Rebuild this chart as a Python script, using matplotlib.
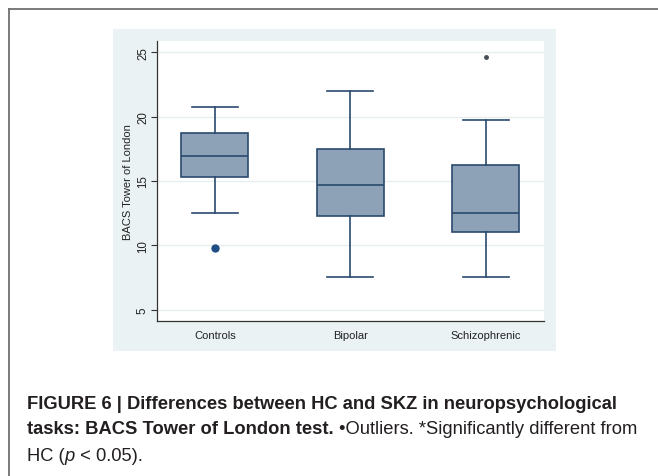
import matplotlib
matplotlib.use('Agg')
import matplotlib.pyplot as plt
from matplotlib import font_manager as fm
from matplotlib.lines import Line2D
from matplotlib.patches import Rectangle

# ---------------- data ----------------
categories = ["Controls", "Bipolar", "Schizophrenic"]
whisker_low = [12.5, 7.5, 7.5]
q1 = [15.33, 12.3, 11.05]
median = [16.93, 14.68, 12.53]
q3 = [18.73, 17.5, 16.27]
whisker_high = [20.78, 22.0, 19.77]
outlier_values = [[9.77], [], [24.66]]
yticks = [5, 10, 15, 20, 25]
ylabel = "BACS Tower of London"

cap_line1 = "FIGURE 6 | Differences between HC and SKZ in neuropsychological"
cap_line2_bold = "tasks: BACS Tower of London test."
cap_line2_reg = "\u2022Outliers. *Significantly different from"
cap_line3 = ["HC (", "p", " < 0.05)."]

# ---------------- figure ----------------
W, H = 658, 477
fig = plt.figure(figsize=(W / 100, H / 100), dpi=100)
fig.patch.set_facecolor('white')

def fx(px):
    return px / W

def fy(py):
    return 1 - py / H

available = {f.name for f in fm.fontManager.ttflist}
base_font = 'Liberation Sans' if 'Liberation Sans' in available else 'DejaVu Sans'
cap_font = 'Liberation Sans Narrow' if 'Liberation Sans Narrow' in available else base_font

# outer frame (left and top lines)
fig.add_artist(Line2D([fx(8.5), fx(8.5)], [fy(10), fy(H + 5)], transform=fig.transFigure,
                      color='#707070', lw=1.3))
fig.add_artist(Line2D([fx(8.5), fx(W + 5)], [fy(10), fy(10)], transform=fig.transFigure,
                      color='#707070', lw=1.3))

# graph region background
gx0, gx1, gy0, gy1 = 113, 556, 30, 351.7
fig.add_artist(Rectangle((fx(gx0), fy(gy1)), fx(gx1 - gx0), (gy1 - gy0) / H,
                         transform=fig.transFigure, facecolor='#eaf2f3', edgecolor='none', zorder=0))

# axes (plot region)
ax_x0, ax_x1, ax_y0, ax_y1 = 157.3, 544.3, 41.7, 322.3
ax = fig.add_axes([fx(ax_x0), fy(ax_y1), fx(ax_x1 - ax_x0), (ax_y1 - ax_y0) / H])
ax.set_facecolor('white')

edge = '#2a4a6e'
fill = '#8da2b6'
stats = []
for i in range(len(categories)):
    stats.append(dict(med=median[i], q1=q1[i], q3=q3[i], whislo=whisker_low[i],
                      whishi=whisker_high[i], fliers=[], label=categories[i]))
positions = list(range(1, len(categories) + 1))
ax.bxp(stats, positions=positions, widths=0.495, capwidths=0.338, patch_artist=True,
       showfliers=False,
       boxprops=dict(facecolor=fill, edgecolor=edge, linewidth=1.2),
       medianprops=dict(color=edge, linewidth=1.2),
       whiskerprops=dict(color=edge, linewidth=1.2),
       capprops=dict(color=edge, linewidth=1.2), zorder=3)

marker_styles = [dict(marker='o', ms=5, color='#1f4e85'), None,
                 dict(marker='o', ms=2.5, color='#4a4f55')]
for i, vals in enumerate(outlier_values):
    if vals:
        ax.plot([positions[i]] * len(vals), vals, linestyle='none', zorder=4, **marker_styles[i])

ax.set_xlim(0.574, 3.433)
ax.set_ylim(4.09, 25.9)
ax.set_yticks(yticks)
ax.set_yticklabels([str(t) for t in yticks], rotation=90, va='center',
                   fontsize=8.3, family=base_font, color='#222222')
ax.set_xticks(positions)
ax.set_xticklabels(categories, fontsize=8, family=base_font, color='#222222')
ax.tick_params(axis='x', length=0, pad=6)
ax.tick_params(axis='y', length=4, width=0.8, color='#333333', pad=2)
for t in yticks:
    ax.axhline(t, color='#e6eeef', lw=1.0, zorder=1)
for s in ['top', 'right']:
    ax.spines[s].set_visible(False)
for s in ['left', 'bottom']:
    ax.spines[s].set_color('#333333')
    ax.spines[s].set_linewidth(0.9)
ax.set_ylabel(ylabel, fontsize=8, family=base_font, labelpad=3, color='#222222')

# ---------------- caption ----------------
renderer = fig.canvas.get_renderer()
text_color = '#231f20'
cap_size = 12.0
x_left = 27
target_w1 = 613 - 27

def width_px(s, **kw):
    t = fig.text(0, 0, s, **kw)
    w = t.get_window_extent(renderer).width
    t.remove()
    return w

w1 = width_px(cap_line1, fontsize=cap_size, family=cap_font, weight='bold')
cap_size = cap_size * target_w1 / w1

def space_w(**kw):
    return width_px("a a", **kw) - width_px("aa", **kw)

bold_kw = dict(fontsize=cap_size, family=cap_font, weight='bold', color=text_color)
reg_kw = dict(fontsize=cap_size, family=cap_font, color=text_color)
ital_kw = dict(fontsize=cap_size, family=cap_font, style='italic', color=text_color)

fig.text(fx(x_left), fy(409.3), cap_line1, va='baseline', ha='left', **bold_kw)

t = fig.text(fx(x_left), fy(434.3), cap_line2_bold, va='baseline', ha='left', **bold_kw)
x = x_left + t.get_window_extent(renderer).width + space_w(**bold_kw)
fig.text(fx(x), fy(434.3), cap_line2_reg, va='baseline', ha='left', **reg_kw)

x = x_left
for i, piece in enumerate(cap_line3):
    kw = ital_kw if i == 1 else reg_kw
    tt = fig.text(fx(x), fy(461), piece, va='baseline', ha='left', **kw)
    x += width_px(piece.replace(' ', '\u00a0'), **kw)

fig.savefig('out.png', dpi=100, facecolor='white')
